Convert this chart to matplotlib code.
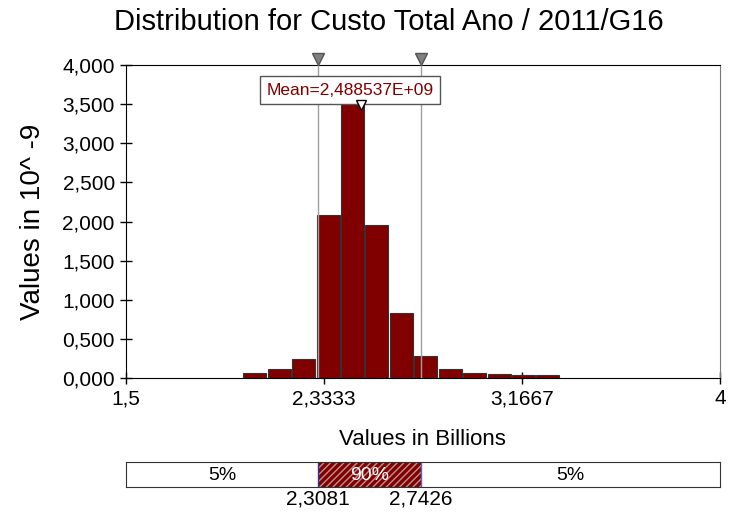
import matplotlib
matplotlib.use("Agg")
import matplotlib.pyplot as plt
from matplotlib.transforms import blended_transform_factory

# datos
bin_start = 1.994
bin_width = 0.1028
densidad = [0.06, 0.12, 0.24, 2.08, 3.51, 1.95, 0.83, 0.28, 0.11, 0.07, 0.055, 0.035, 0.04]
p5 = 2.3081
p95 = 2.7426
media = 2.488537
x_ticks = [1.5, 2.3333, 3.1667, 4.0]
x_tick_labels = ["1,5", "2,3333", "3,1667", "4"]
y_ticks = [0.0, 0.5, 1.0, 1.5, 2.0, 2.5, 3.0, 3.5, 4.0]
y_tick_labels = ["0,000", "0,500", "1,000", "1,500", "2,000", "2,500", "3,000", "3,500", "4,000"]
pct_labels = ["5%", "90%", "5%"]

plt.rcParams['font.family'] = ['Liberation Sans', 'DejaVu Sans']

rojo = '#800000'

fig = plt.figure(figsize=(7.29, 5.15), dpi=100)
ax = fig.add_axes([0.1728, 0.266, 0.8149, 0.6078])

lefts = [bin_start + i * bin_width for i in range(len(densidad))]
ax.bar(lefts, densidad, width=bin_width * 0.94, align='edge', color=rojo,
       edgecolor='#333333', linewidth=0.8, zorder=2)

# lineas de percentiles
for v in [p5, p95]:
    ax.axvline(v, color='#a0a0a0', linewidth=1, zorder=3)
trans = blended_transform_factory(ax.transData, ax.transAxes)
ax.plot([p5, p95], [1.018, 1.018], linestyle='none', marker='v', markersize=8,
        color='#808080', markeredgecolor='#555555', transform=trans, clip_on=False, zorder=5)

# marcador de la media
ax.text(2.443, 3.68, "Mean=2,488537E+09", color=rojo, fontsize=12.5, ha='center', va='center',
        bbox=dict(boxstyle='square,pad=0.35', facecolor='white', edgecolor='#555555'), zorder=7)
ax.plot([media], [3.49], marker='v', markersize=7, color='white',
        markeredgecolor='black', linestyle='none', zorder=8, clip_on=False)

ax.set_xlim(1.5, 4.0)
ax.set_ylim(0, 4.0)
ax.set_xticks(x_ticks)
ax.set_xticklabels(x_tick_labels)
ax.set_yticks(y_ticks)
ax.set_yticklabels(y_tick_labels)
ax.tick_params(axis='both', labelsize=15, direction='inout', length=9, width=1)
for s in ['left', 'bottom', 'top']:
    ax.spines[s].set_color('black')
ax.spines['right'].set_color('#777777')

fig.text(0.533, 0.957, "Distribution for Custo Total Ano / 2011/G16", fontsize=21,
         ha='center', va='center')
ax.set_ylabel("Values in 10^ -9", fontsize=20, labelpad=12)
fig.text(0.58, 0.146, "Values in Billions", fontsize=16, ha='center', va='center')

# barra de percentiles
ax2 = fig.add_axes([0.1728, 0.0544, 0.8149, 0.0485])
ax2.set_xlim(1.5, 4.0)
ax2.set_ylim(0, 1)
ax2.barh(0.5, p95 - p5, left=p5, height=1, color=rojo, linewidth=0)
ax2.barh(0.5, p95 - p5, left=p5, height=1, color='none', edgecolor='#c09090',
         hatch='/////', linewidth=0)
ax2.axvline(p5, color='#3030a0', linewidth=1)
ax2.axvline(p95, color='#6060c0', linewidth=1)
ax2.text((1.5 + p5) / 2, 0.45, pct_labels[0], ha='center', va='center', fontsize=14)
ax2.text((p5 + p95) / 2, 0.45, pct_labels[1], ha='center', va='center', fontsize=14, color='white')
ax2.text((p95 + 4.0) / 2, 0.45, pct_labels[2], ha='center', va='center', fontsize=14)
ax2.set_xticks([p5, p95])
ax2.set_xticklabels(["2,3081", "2,7426"])
ax2.tick_params(axis='x', length=0, labelsize=15, pad=2)
ax2.set_yticks([])
for s in ax2.spines.values():
    s.set_color('#333333')

plt.savefig("out.png", dpi=100)
